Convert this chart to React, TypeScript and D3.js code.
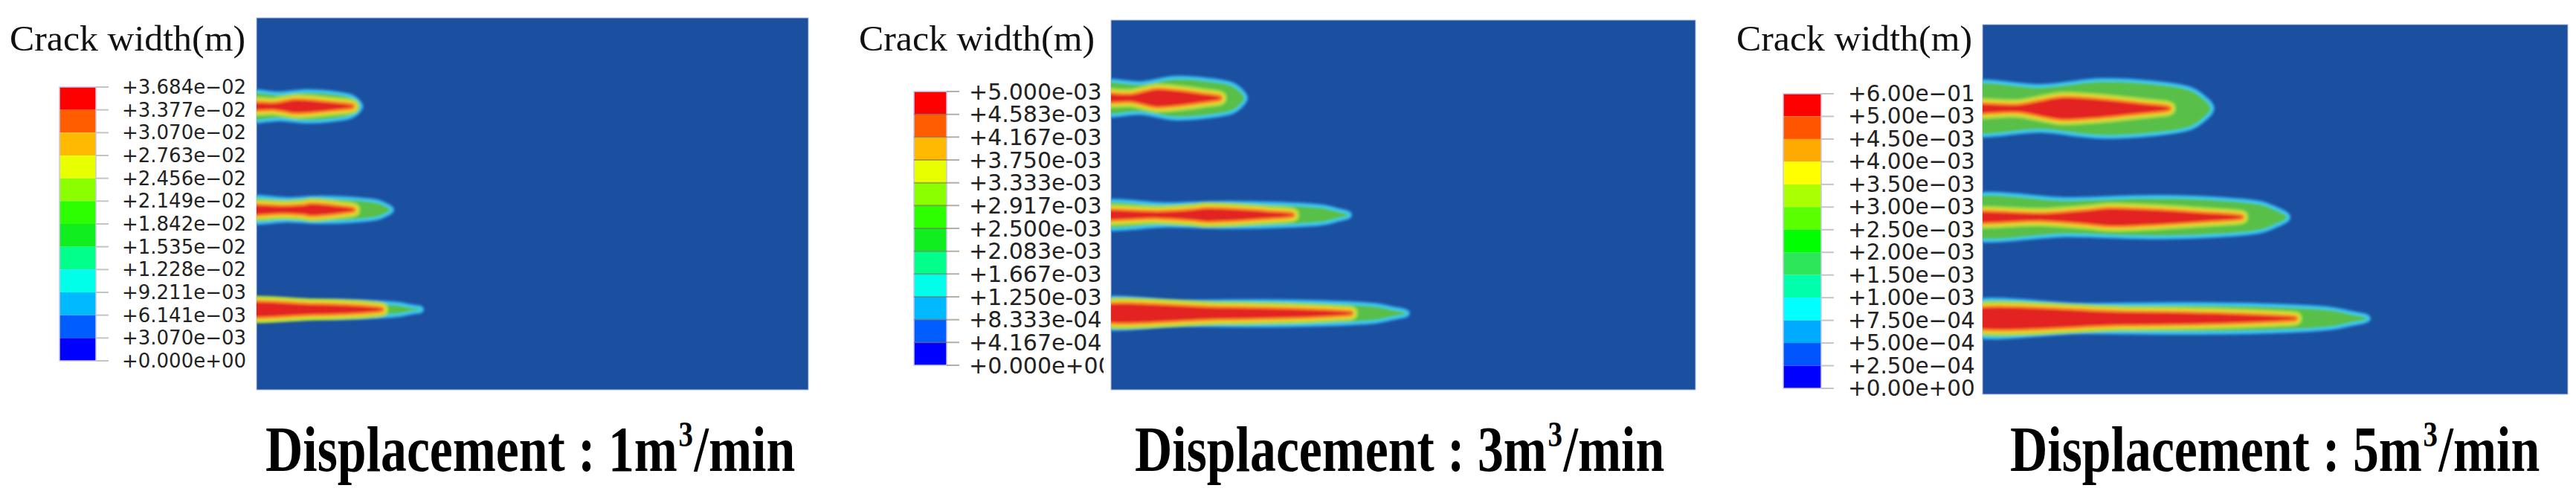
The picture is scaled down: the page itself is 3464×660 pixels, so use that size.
import React from 'react';
import * as d3 from 'd3';

// ---------- DATA ----------
const displacementRates = [1, 3, 5]; // m3/min

const legendLabels1 = ["+3.684e\u221202", "+3.377e\u221202", "+3.070e\u221202", "+2.763e\u221202", "+2.456e\u221202", "+2.149e\u221202", "+1.842e\u221202", "+1.535e\u221202", "+1.228e\u221202", "+9.211e\u221203", "+6.141e\u221203", "+3.070e\u221203", "+0.000e+00"];
const legendLabels2 = ["+5.000e-03", "+4.583e-03", "+4.167e-03", "+3.750e-03", "+3.333e-03", "+2.917e-03", "+2.500e-03", "+2.083e-03", "+1.667e-03", "+1.250e-03", "+8.333e-04", "+4.167e-04", "+0.000e+00"];
const legendLabels3 = ["+6.00e\u221201", "+5.00e\u221203", "+4.50e\u221203", "+4.00e\u221203", "+3.50e\u221203", "+3.00e\u221203", "+2.50e\u221203", "+2.00e\u221203", "+1.50e\u221203", "+1.00e\u221203", "+7.50e\u221204", "+5.00e\u221204", "+2.50e\u221204", "+0.00e+00"];

const legendColors1 = ["#FF0000", "#FF5D00", "#FFB900", "#E8FF00", "#8BFF00", "#2EFF00", "#10EE20", "#00FF8B", "#00FFE8", "#00B9FF", "#005DFF", "#0000FF"];
const legendColors2 = ["#FF0000", "#FF5D00", "#FFB900", "#E8FF00", "#8BFF00", "#2EFF00", "#10EE20", "#00FF8B", "#00FFE8", "#00B9FF", "#005DFF", "#0000FF"];
const legendColors3 = ["#FF0000", "#FF5500", "#FFAA00", "#FFFF00", "#AAFF00", "#5AFF00", "#00FF00", "#2EE65A", "#00FFAA", "#00FFFF", "#00AAFF", "#0055FF", "#0000FF"];

// Crack plumes, in model coordinates (percent of model width for x, percent of model height for y / half-thickness)
const cracks1 = [
  { cy: 23.8, tip: 19.3, halfLeft: 4.0, halfBulge: 4.6, bulgeX: 8.8, coreStart: 5.1, coreEnd: 17.3, coreHalf: 1.4, lineHalf: 0.5 },
  { cy: 51.6, tip: 24.9, halfLeft: 3.4, halfBulge: 3.8, bulgeX: 11.5, coreStart: 8.5, coreEnd: 17.5, coreHalf: 1.2, lineHalf: 0.6 },
  { cy: 78.4, tip: 30.3, halfLeft: 2.6, halfBulge: 2.8, bulgeX: 10.0, coreStart: 0, coreEnd: 22.6, coreHalf: 1.0, lineHalf: 1.0 },
];
const cracks2 = [
  { cy: 21.1, tip: 23.4, halfLeft: 4.6, halfBulge: 6.0, bulgeX: 10.8, coreStart: 5.7, coreEnd: 18.6, coreHalf: 2.0, lineHalf: 0.6 },
  { cy: 52.7, tip: 41.2, halfLeft: 3.4, halfBulge: 3.8, bulgeX: 19.8, coreStart: 13.7, coreEnd: 31.0, coreHalf: 1.4, lineHalf: 0.5 },
  { cy: 79.3, tip: 51.1, halfLeft: 3.6, halfBulge: 3.8, bulgeX: 25.0, coreStart: 0, coreEnd: 41.0, coreHalf: 1.2, lineHalf: 1.2 },
];
const cracks3 = [
  { cy: 22.7, tip: 39.6, halfLeft: 6.6, halfBulge: 8.2, bulgeX: 20.3, coreStart: 10.2, coreEnd: 31.8, coreHalf: 2.6, lineHalf: 0.6 },
  { cy: 52.1, tip: 52.6, halfLeft: 5.4, halfBulge: 6.0, bulgeX: 29.7, coreStart: 17.5, coreEnd: 44.2, coreHalf: 2.0, lineHalf: 0.6 },
  { cy: 79.5, tip: 66.3, halfLeft: 4.2, halfBulge: 4.4, bulgeX: 35.0, coreStart: 0, coreEnd: 53.4, coreHalf: 1.4, lineHalf: 1.4 },
];

// ---------- LAYOUT (pixels) ----------
const W = 3464, H = 660;
const layouts = [
  { rect: [345, 24, 1087, 524], bar: [80, 117, 129, 485], labelX: 164, labelFont: 26, labelLen: 167, clipX: 0, crackX: 13, titleX: 357, darkTicks: false },
  { rect: [1494, 27, 2280, 524], bar: [1229, 123, 1273, 491], labelX: 1303, labelFont: 30, labelLen: 0, clipX: 1484, crackX: 1155, titleX: 1526, darkTicks: true },
  { rect: [2666, 33, 3453, 530], bar: [2398, 126, 2449, 522], labelX: 2485, labelFont: 29.5, labelLen: 0, clipX: 0, crackX: 2335, titleX: 2703, darkTicks: false },
];
const panelData = [
  { labels: legendLabels1, colors: legendColors1, cracks: cracks1 },
  { labels: legendLabels2, colors: legendColors2, cracks: cracks2 },
  { labels: legendLabels3, colors: legendColors3, cracks: cracks3 },
];

const BG = "#1b4f9f";
const SERIF = "'Liberation Serif', 'Times New Roman', serif";
const closed = d3.line().curve(d3.curveCatmullRomClosed.alpha(0.5));

function outerPath(c: any, x: any, y: any, inset: number) {
  const cy = y(c.cy);
  const k = (h: number) => Math.max(1.5, (y(h) - y(0)) - inset);
  const L = c.tip, b = c.bulgeX;
  const tipX = x(L) - inset;
  const st: [number, number][] = [
    [-3, c.halfLeft], [b * 0.5, c.halfLeft], [b, c.halfBulge],
    [b + (L - b) * 0.45, c.halfBulge * 0.92], [b + (L - b) * 0.78, c.halfBulge * 0.72],
    [L - (L - b) * 0.12, c.halfBulge * 0.5],
  ];
  const top = st.map(([sx, h]) => [Math.min(x(sx), tipX - 3), cy - k(h)] as [number, number]);
  const bot = st.slice().reverse().map(([sx, h]) => [Math.min(x(sx), tipX - 3), cy + k(h)] as [number, number]);
  return closed([...top, [tipX, cy], ...bot]) as string;
}

function corePath(c: any, x: any, y: any) {
  const cy = y(c.cy);
  const k = (h: number) => y(h) - y(0);
  const cs = c.coreStart, ce = c.coreEnd, d = ce - cs;
  let st: [number, number][];
  if (cs > 0) {
    st = [[-3, c.lineHalf], [cs * 0.6, c.lineHalf], [cs + d * 0.03, c.coreHalf * 0.75], [cs + d * 0.15, c.coreHalf],
      [cs + d * 0.45, c.coreHalf * 0.8], [cs + d * 0.75, c.coreHalf * 0.4]];
  } else {
    st = [[-3, c.coreHalf], [ce * 0.45, c.coreHalf], [ce * 0.75, c.coreHalf * 0.7], [ce * 0.92, c.coreHalf * 0.3]];
  }
  const top = st.map(([sx, h]) => [x(sx), cy - k(h)] as [number, number]);
  const bot = st.slice().reverse().map(([sx, h]) => [x(sx), cy + k(h)] as [number, number]);
  return closed([...top, [x(ce), cy], ...bot]) as string;
}

function Caption({ x0, rate }: { x0: number; rate: number }) {
  // Condensed bold caption: laid out at natural size, then squeezed horizontally to ~712px
  const mainW = 683, supW = 24, tailW = 167, gap = 2;
  const total = mainW + gap + supW + gap + tailW;
  const sx = 712 / total;
  return (
    <g fontFamily={SERIF} fontWeight="bold" fill="#000" transform={`translate(${x0},633) scale(${sx},1)`}>
      <text x={0} y={0} fontSize={86}>{`Displacement : ${rate}m`}</text>
      <text x={mainW + gap} y={-33} fontSize={48}>3</text>
      <text x={mainW + gap + supW + gap} y={0} fontSize={86}>/min</text>
    </g>
  );
}

function Panel({ idx }: { idx: number }) {
  const lay = layouts[idx];
  const pd = panelData[idx];
  const [rx0, ry0, rx1, ry1] = lay.rect;
  const x = d3.scaleLinear().domain([0, 100]).range([rx0, rx1]);
  const y = d3.scaleLinear().domain([0, 100]).range([ry0, ry1]);
  const [bx0, by0, bx1, by1] = lay.bar;
  const ly = d3.scaleLinear().domain([0, pd.labels.length - 1]).range([by0, by1]);
  const clipId = `plume-clip-${idx}`;
  const legClip = `leg-clip-${idx}`;
  return (
    <g>
      <defs>
        <clipPath id={clipId}><rect x={rx0} y={ry0} width={rx1 - rx0} height={ry1 - ry0} /></clipPath>
        <clipPath id={legClip}><rect x={0} y={0} width={lay.clipX || W} height={H} /></clipPath>
      </defs>
      {/* Legend title */}
      <text x={lay.crackX} y={68} fontFamily={SERIF} fontSize={48}
        textLength={317} lengthAdjust="spacingAndGlyphs" fill="#111">Crack width(m)</text>
      {/* Legend bar */}
      <g>
        {pd.colors.map((col, i) => (
          <rect key={i} x={bx0} y={ly(i)} width={bx1 - bx0} height={ly(i + 1) - ly(i)} fill={col} />
        ))}
        <rect x={bx0} y={by0} width={bx1 - bx0} height={by1 - by0} fill="none" stroke="#c9c6e6" strokeWidth={1.5} />
        {pd.labels.map((_, i) => (
          <line key={i} x1={lay.darkTicks && i > 0 && i < pd.labels.length - 1 ? bx0 : bx1} x2={bx1 + 17} y1={ly(i)} y2={ly(i)}
            stroke={lay.darkTicks ? "#7a6a5a" : "#c4c4c4"} strokeOpacity={lay.darkTicks ? 0.55 : 1} strokeWidth={2} />
        ))}
      </g>
      <g clipPath={`url(#${legClip})`}>
        {pd.labels.map((lab, i) => (
          <text key={i} x={lay.labelX} y={ly(i)} dominantBaseline="central" fontFamily="'DejaVu Sans', Verdana, sans-serif"
            fontSize={lay.labelFont} fill="#222" {...(lay.labelLen ? { textLength: lay.labelLen, lengthAdjust: "spacingAndGlyphs" } : {})}>{lab}</text>
        ))}
      </g>
      {/* Model area */}
      <rect x={rx0} y={ry0} width={rx1 - rx0} height={ry1 - ry0} fill={BG} stroke="#aebbd8" strokeWidth={1} />
      <g clipPath={`url(#${clipId})`}>
        <g filter="url(#soft)">
          {pd.cracks.map((c, i) => {
            const o = outerPath(c, x, y, 5);
            const cp = corePath(c, x, y);
            return (
              <g key={i}>
                <path d={o} fill="none" stroke="#2c8ad8" strokeWidth={12} strokeLinejoin="round" />
                <path d={o} fill="none" stroke="#3ccbe4" strokeWidth={7} strokeLinejoin="round" />
                <path d={o} fill="#58c04a" />
                <path d={cp} fill="none" stroke="#a6d83c" strokeWidth={20} strokeLinejoin="round" />
                <path d={cp} fill="none" stroke="#f0d232" strokeWidth={13} strokeLinejoin="round" />
                <path d={cp} fill="none" stroke="#f28424" strokeWidth={8} strokeLinejoin="round" />
                <path d={cp} fill="#e32420" stroke="#e32420" strokeWidth={1.5} />
              </g>
            );
          })}
        </g>
      </g>
      {/* Caption */}
      <Caption x0={lay.titleX} rate={displacementRates[idx]} />
    </g>
  );
}

export default function App() {
  return (
    <svg width={W} height={H} viewBox={`0 0 ${W} ${H}`} style={{ position: 'absolute', left: 0, top: 0, background: '#fff' }}>
      <defs>
        <filter id="soft" filterUnits="userSpaceOnUse" x={0} y={0} width={W} height={H}>
          <feGaussianBlur stdDeviation={1.8} />
        </filter>
      </defs>
      <rect x={0} y={0} width={W} height={H} fill="#fff" />
      {displacementRates.map((_, i) => <Panel key={i} idx={i} />)}
    </svg>
  );
}
